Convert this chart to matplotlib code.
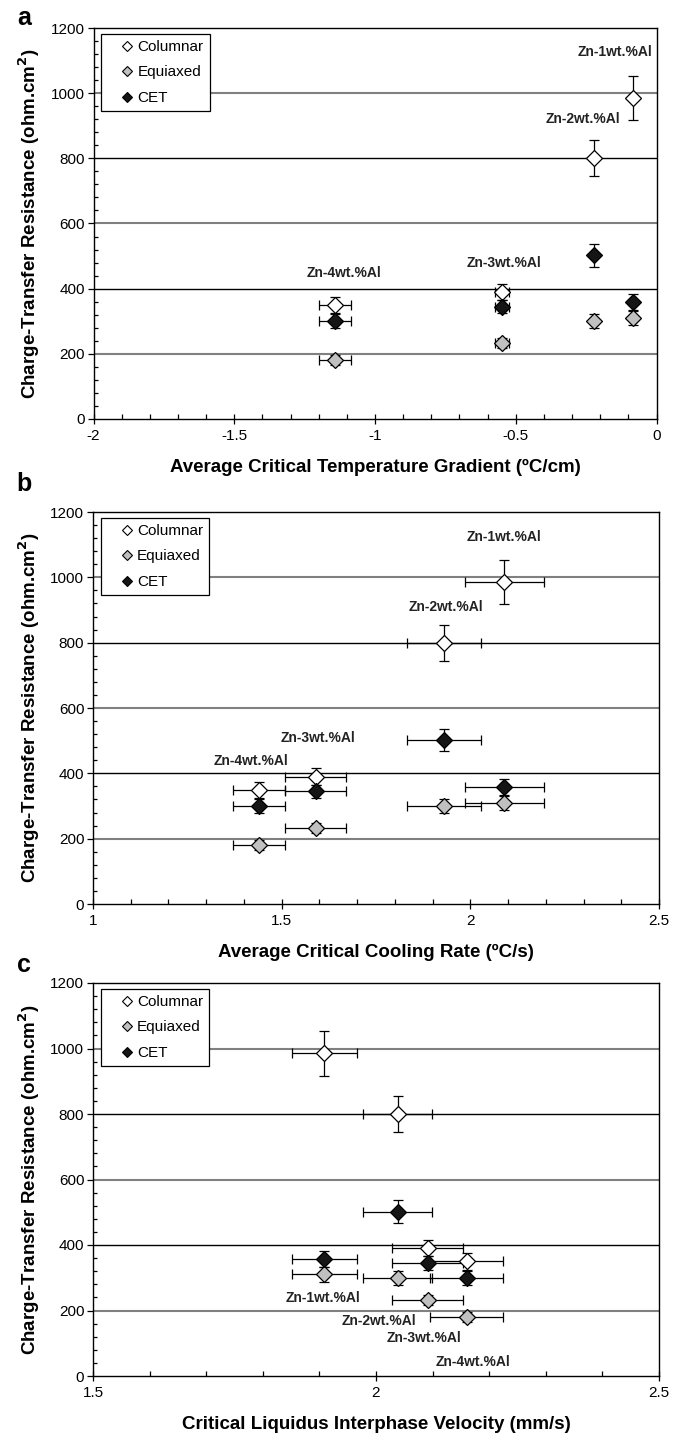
import matplotlib
matplotlib.use("Agg")
import matplotlib.pyplot as plt
from matplotlib.ticker import MultipleLocator

plt.rcParams['font.family'] = ['Liberation Sans', 'DejaVu Sans']

alloys = ["Zn-1wt.%Al", "Zn-2wt.%Al", "Zn-3wt.%Al", "Zn-4wt.%Al"]
series_names = ["Columnar", "Equiaxed", "CET"]

# Charge-transfer resistance (ohm.cm2) per alloy
columnar = [985, 800, 390, 350]
columnar_err = [68, 55, 25, 25]
equiaxed = [310, 300, 233, 180]
equiaxed_err = [22, 22, 15, 15]
cet = [358, 502, 345, 300]
cet_err = [25, 35, 20, 22]

# Panel a: average critical temperature gradient (C/cm)
grad = [-0.085, -0.223, -0.549, -1.141]
grad_err = [0.0, 0.0, 0.025, 0.057]
# Panel b: average critical cooling rate (C/s)
cool = [2.09, 1.93, 1.59, 1.44]
cool_err = [0.105, 0.097, 0.08, 0.07]
# Panel c: critical liquidus interphase velocity (mm/s)
vel = [1.909, 2.038, 2.091, 2.160]
vel_err = [0.058, 0.061, 0.062, 0.065]

# annotation positions (data coordinates)
ann_a = [(-0.149, 1126), (-0.26, 921), (-0.54, 479), (-1.11, 448)]
ann_b = [(2.09, 1123), (1.935, 909), (1.597, 508), (1.418, 438)]
ann_c = [(1.906, 238), (2.006, 168), (2.084, 116), (2.172, 43)]

W, H = 684, 1436
panels = [
    dict(letter="a", letter_y=18, x=grad, xerr=grad_err, xlim=(-2, 0),
         xticks=[-2, -1.5, -1, -0.5, 0], xticklabels=["-2", "-1.5", "-1", "-0.5", "0"],
         xlabel="Average Critical Temperature Gradient (ºC/cm)", ann=ann_a,
         rect=[93.5/W, 1-419/H, 563/W, 391/H]),
    dict(letter="b", letter_y=484, x=cool, xerr=cool_err, xlim=(1, 2.5),
         xticks=[1, 1.5, 2, 2.5], xticklabels=["1", "1.5", "2", "2.5"],
         xlabel="Average Critical Cooling Rate (ºC/s)", ann=ann_b,
         rect=[93/W, 1-904/H, 566/W, 392/H]),
    dict(letter="c", letter_y=965, x=vel, xerr=vel_err, xlim=(1.5, 2.5),
         xticks=[1.5, 2, 2.5], xticklabels=["1.5", "2", "2.5"],
         xlabel="Critical Liquidus Interphase Velocity (mm/s)", ann=ann_c,
         rect=[93/W, 1-1376/H, 566/W, 393/H]),
]

fig = plt.figure(figsize=(W/100, H/100), dpi=100)

styles = [
    (columnar, columnar_err, "white"),
    (equiaxed, equiaxed_err, "#c0c0c0"),
    (cet, cet_err, "#151515"),
]

grid_colors = {200: "#808080", 400: "black", 600: "#808080", 800: "black", 1000: "#808080"}

for p in panels:
    ax = fig.add_axes(p["rect"])
    ax.set_xlim(*p["xlim"])
    ax.set_ylim(0, 1200)
    for yv, c in grid_colors.items():
        ax.axhline(yv, color=c, lw=1.0 if c == "black" else 1.5, zorder=0)
    handles = []
    for (vals, errs, fc), name in zip(styles, series_names):
        ax.errorbar(p["x"], vals, yerr=errs, xerr=p["xerr"], fmt="none",
                    ecolor="black", elinewidth=0.9, capsize=3.6, capthick=0.9, zorder=2)
        ax.plot(p["x"], vals, linestyle="none", marker="D", ms=8.6,
                mfc=fc, mec="black", mew=0.9, zorder=3)
        h, = ax.plot([], [], linestyle="none", marker="D", ms=4.6,
                     mfc=fc, mec="black", mew=0.8, label=name)
        handles.append(h)
    for (tx, ty), lab in zip(p["ann"], alloys):
        ax.text(tx, ty, lab, ha="center", va="center", fontsize=10,
                fontweight="bold", color="#222222", zorder=4)
    leg = ax.legend(handles=handles, loc="upper left", bbox_to_anchor=(0.014, 0.985),
                    borderaxespad=0, fontsize=11, frameon=True, fancybox=False,
                    edgecolor="black", borderpad=0.4, handlelength=2.6,
                    handletextpad=-0.64, labelspacing=0.75, framealpha=1)
    leg.get_frame().set_linewidth(0.9)
    leg.set_zorder(5)

    ax.set_xticks(p["xticks"])
    ax.set_xticklabels(p["xticklabels"])
    ax.xaxis.set_minor_locator(MultipleLocator(0.1))
    ax.set_yticks([0, 200, 400, 600, 800, 1000, 1200])
    ax.yaxis.set_minor_locator(MultipleLocator(40))
    ax.tick_params(axis="x", which="major", direction="inout", length=7, width=0.9,
                   labelsize=11, pad=4)
    ax.tick_params(axis="x", which="minor", direction="in", length=3.5, width=0.9)
    ax.tick_params(axis="y", which="major", direction="out", length=4.3, width=0.9,
                   labelsize=11, pad=2)
    ax.tick_params(axis="y", which="minor", direction="in", length=3, width=0.9)
    for s in ax.spines.values():
        s.set_linewidth(1.0)
        s.set_color("black")
    ax.set_xlabel(p["xlabel"], fontsize=13.5, fontweight="bold", labelpad=11)
    ax.set_ylabel("Charge-Transfer Resistance (ohm.cm$^\\mathbf{2}$)", fontsize=13.5,
                  fontweight="bold", labelpad=6)
    fig.text(24/W, 1 - p["letter_y"]/H, p["letter"], fontsize=18,
             fontweight="bold", ha="center", va="center")

fig.savefig("out.png", dpi=100)
